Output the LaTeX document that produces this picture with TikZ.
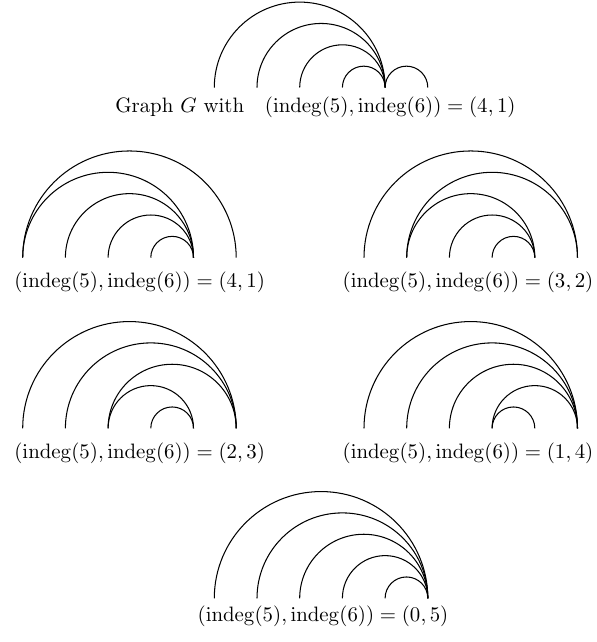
\documentclass[tikz,border=0pt]{standalone}
\usetikzlibrary{calc}
\newcommand\mkpts[3]{\foreach \i in {1,...,6}{\coordinate (#1\i) at ({#2+(\i-1)*42.7},#3);}}
\newcommand\harc[2]{\draw[arcline] let \p1=(#1),\p2=(#2) in (#1) arc[start angle=180,end angle=0,radius={0.5*(\x2-\x1)}];}
\newcommand\lbl[2]{$(\mathrm{indeg}(5),\mathrm{indeg}(6))=(#1,#2)$}
\begin{document}
\begin{tikzpicture}[x=0.48pt,y=-0.48pt,
  arcline/.style={line width=0.5pt},
  lab/.style={inner sep=0pt,anchor=base}]
\useasboundingbox (0,0) rectangle (597,642);
% top graph
\mkpts{t}{214.3}{87.5}
\harc{t1}{t5}\harc{t2}{t5}\harc{t3}{t5}\harc{t4}{t5}\harc{t5}{t6}
\node[lab,anchor=base east] (tl) at (516,112.5) {Graph $G$ with\ \ \ \lbl{4}{1}};
% row 2 left (4,1)
\mkpts{a}{22.7}{257.7}
\harc{a1}{a6}\harc{a1}{a5}\harc{a2}{a5}\harc{a3}{a5}\harc{a4}{a5}
\node[lab] (al) at (139.7,287.3) {\lbl{4}{1}};
% row 2 right (3,2)
\mkpts{b}{364}{257.7}
\harc{b1}{b6}\harc{b2}{b6}\harc{b2}{b5}\harc{b3}{b5}\harc{b4}{b5}
\node[lab] (bl) at (468,287.3) {\lbl{3}{2}};
% row 3 left (2,3)
\mkpts{c}{22.7}{428.3}
\harc{c1}{c6}\harc{c2}{c6}\harc{c3}{c6}\harc{c3}{c5}\harc{c4}{c5}
\node[lab] (cl) at (139.7,458) {\lbl{2}{3}};
% row 3 right (1,4)
\mkpts{d}{364}{428.3}
\harc{d1}{d6}\harc{d2}{d6}\harc{d3}{d6}\harc{d4}{d6}\harc{d4}{d5}
\node[lab] (dl) at (468,458) {\lbl{1}{4}};
% bottom (0,5)
\mkpts{e}{214.3}{598.3}
\harc{e1}{e6}\harc{e2}{e6}\harc{e3}{e6}\harc{e4}{e6}\harc{e5}{e6}
\node[lab] (el) at (323,621.5) {\lbl{0}{5}};
\end{tikzpicture}
\end{document}
